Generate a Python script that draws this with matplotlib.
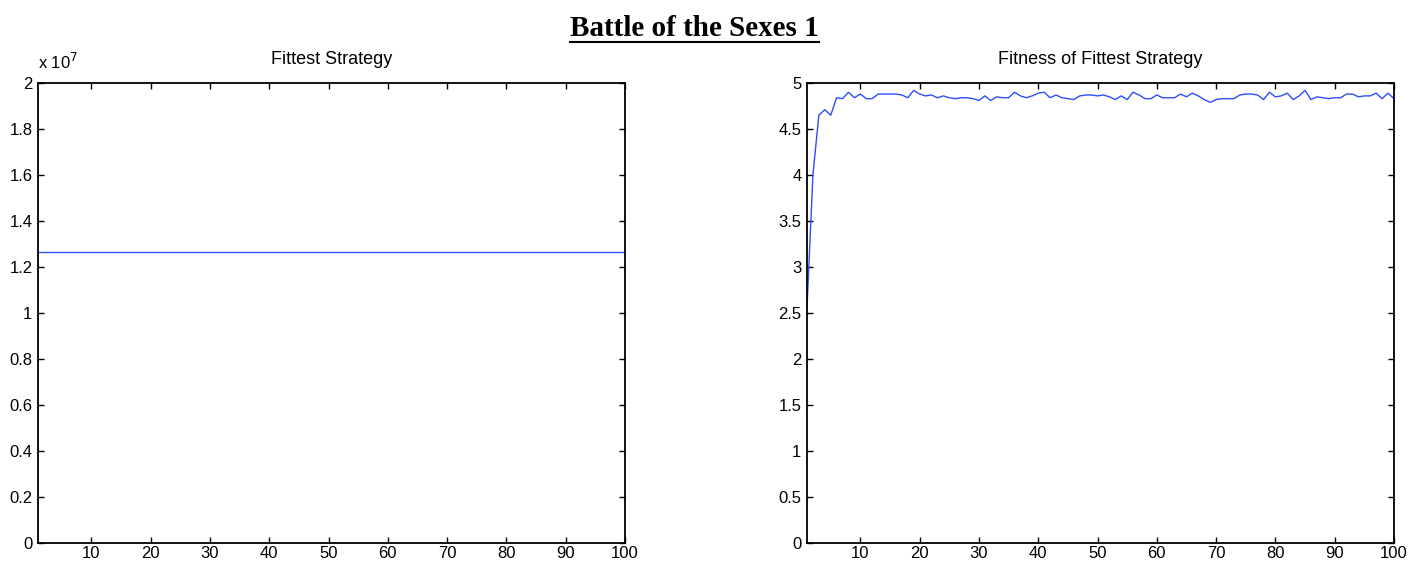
import matplotlib
matplotlib.use('Agg')
import matplotlib.pyplot as plt
from matplotlib.ticker import FuncFormatter

plt.rcParams['font.family'] = ['Liberation Sans', 'DejaVu Sans']

# generations 1..100
generations = list(range(1, 101))

# fittest strategy id found in each generation (constant over the run)
fittest_strategy = [1.265e7] * 100

# fitness of the fittest strategy per generation
fitness = [
    2.55, 4.00, 4.65, 4.71, 4.65, 4.84, 4.83, 4.90, 4.84, 4.88,
    4.83, 4.83, 4.88, 4.88, 4.88, 4.88, 4.87, 4.84, 4.92, 4.88,
    4.86, 4.87, 4.84, 4.86, 4.84, 4.83, 4.84, 4.84, 4.83, 4.81,
    4.86, 4.81, 4.85, 4.84, 4.84, 4.90, 4.86, 4.84, 4.86, 4.89,
    4.90, 4.84, 4.87, 4.84, 4.83, 4.82, 4.86, 4.87, 4.87, 4.86,
    4.87, 4.85, 4.82, 4.86, 4.82, 4.90, 4.87, 4.83, 4.83, 4.87,
    4.84, 4.84, 4.84, 4.88, 4.85, 4.89, 4.86, 4.82, 4.79, 4.82,
    4.83, 4.83, 4.83, 4.87, 4.88, 4.88, 4.87, 4.82, 4.90, 4.85,
    4.86, 4.89, 4.82, 4.86, 4.92, 4.82, 4.85, 4.84, 4.83, 4.84,
    4.84, 4.88, 4.88, 4.85, 4.86, 4.86, 4.89, 4.83, 4.89, 4.83,
]

x_ticks = [10, 20, 30, 40, 50, 60, 70, 80, 90, 100]
left_yticks = [0, 0.2e7, 0.4e7, 0.6e7, 0.8e7, 1.0e7, 1.2e7, 1.4e7, 1.6e7, 1.8e7, 2.0e7]
right_yticks = [0, 0.5, 1, 1.5, 2, 2.5, 3, 3.5, 4, 4.5, 5]

line_color = '#2d4dff'

fig = plt.figure(figsize=(14.23, 5.64), dpi=100)
ax1 = fig.add_axes([0.0267, 0.0372, 0.4125, 0.8156])
ax2 = fig.add_axes([0.5671, 0.0372, 0.4125, 0.8156])


def style_axes(ax):
    ax.set_xlim(1, 100)
    ax.set_xticks(x_ticks)
    ax.tick_params(direction='in', top=True, right=True, length=4, width=1,
                   labelsize=12, pad=4, colors='black')
    ax.tick_params(axis='x', pad=2)
    for sp in ax.spines.values():
        sp.set_linewidth(1.3)


# left: which strategy was fittest
ax1.plot(generations, fittest_strategy, color=line_color, lw=1)
style_axes(ax1)
ax1.set_ylim(0, 2e7)
ax1.set_yticks(left_yticks)
ax1.yaxis.set_major_formatter(FuncFormatter(lambda v, p: f'{v / 1e7:g}'))
ax1.set_title('Fittest Strategy', fontsize=13, pad=14)
ax1.text(0.0, 1.025, r'x 10$^{7}$', transform=ax1.transAxes, fontsize=12,
         ha='left', va='bottom')

# right: its fitness
ax2.plot(generations, fitness, color=line_color, lw=1)
style_axes(ax2)
ax2.set_ylim(0, 5)
ax2.set_yticks(right_yticks)
ax2.yaxis.set_major_formatter(FuncFormatter(lambda v, p: f'{v:g}'))
ax2.set_title('Fitness of Fittest Strategy', fontsize=13, pad=14)

# underlined bold heading
title = fig.text(0.488, 0.95, 'Battle of the Sexes 1', ha='center', va='center',
                 fontsize=21, fontweight='bold', family='Liberation Serif')
fig.canvas.draw()
bb = title.get_window_extent().transformed(fig.transFigure.inverted())
fig.add_artist(plt.Line2D([bb.x0, bb.x1], [bb.y0 - 0.001, bb.y0 - 0.001],
                          transform=fig.transFigure, color='black', lw=1.5))

fig.savefig('out.png', dpi=100)
